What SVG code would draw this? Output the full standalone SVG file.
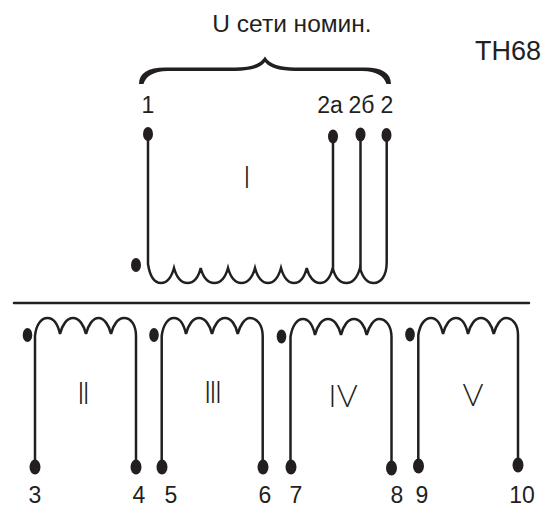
<svg xmlns="http://www.w3.org/2000/svg" width="558" height="507" viewBox="0 0 558 507">
<style>
.w{fill:none;stroke:#231f20;stroke-width:2.5;stroke-linecap:round;stroke-linejoin:miter}
.d{fill:#231f20}
.t{font-family:"Liberation Sans",Arial,sans-serif;font-size:23px;fill:#231f20;text-anchor:middle}
.r{font-family:"Lato","Liberation Sans",sans-serif;font-weight:300;font-size:32px;fill:#231f20;text-anchor:middle}
</style>
<rect width="558" height="507" fill="#fff"/>
<g id="connectors">
<path id="separator" class="w" d="M14 303H529"/>
<path id="brace" class="d" d="M139 84C139 73 148 67.500 165 67.500L235 67.500C250 67 260 65 265 56.500C270 65 280 67 295 67.500L365 67.500C382 67.500 391 73 391 84L386.500 84C384 76 377 71.500 362 71L295 71C280 70.500 270 68.500 265 62C260 68.500 250 70.500 235 71L168 71C153 71.500 146 76 143.500 84Z"/>
</g>
<g id="winding-I">
<path class="w" d="M148 134V264C150 277 155 283 161 283C167 283 171.500 277 174 268C176.500 277 181 283 187.500 283C194 283 198.500 277 200.700 268C203 277 208 283 214.500 283C221 283 225.500 277 228 268C230.500 277 235 283 241.500 283C248 283 252.500 277 255 268C257.500 277 262 283 268 283C274 283 278.500 277 281 268C283.500 277 288 283 294 283C300 283 304.500 277 306.700 268C309 277 314 283 320 283C326 283 330.500 277 332.700 268C335 277 340 283 346.500 283C353 283 357.500 277 360 268C362.500 277 367 283 373.500 283C381 283 386.700 276 386.700 262V135"/>
<path class="w" d="M333 137V268M360.500 135V268"/>
<ellipse class="d" cx="148" cy="134" rx="5" ry="7"/>
<ellipse class="d" cx="333" cy="136.500" rx="5" ry="7"/>
<ellipse class="d" cx="360.500" cy="134.500" rx="5" ry="7"/>
<ellipse class="d" cx="386.500" cy="135" rx="5" ry="7"/>
<ellipse class="d" cx="136" cy="265" rx="5" ry="7"/>
<text class="r" x="247" y="188">I</text>
</g>
<g id="winding-II">
<path class="w" d="M35 467V336C36 325 41 318 47.500 318C54 318 58 325 60 334C62 325 67 318 73 318C79 318 84 325 86 334C88 325 93 318 98.500 318C104 318 109 325 111 334C113 325 118 318 124 318C131 318 136 325 136 336V467"/>
<ellipse class="d" cx="35" cy="467" rx="5.500" ry="7.500"/>
<ellipse class="d" cx="136" cy="467" rx="5.500" ry="7.500"/>
<ellipse class="d" cx="27.500" cy="335" rx="4.800" ry="7"/>
<text class="r" x="82" y="404" letter-spacing="-3">II</text>
</g>
<g id="winding-III">
<path class="w" d="M161.700 467V336C163 325 168 318 174 318C180 318 184 325 186 334C188 325 193 318 199 318C205 318 210 325 212 334C214 325 219 318 225 318C231 318 236 325 237.700 334C240 325 245 318 250 318C257 318 262.700 325 262.700 336V467"/>
<ellipse class="d" cx="162" cy="467" rx="5.500" ry="7.500"/>
<ellipse class="d" cx="263" cy="467" rx="5.500" ry="7.500"/>
<ellipse class="d" cx="154" cy="335" rx="4.800" ry="7"/>
<text class="r" x="211.500" y="403" letter-spacing="-3">III</text>
</g>
<g id="winding-IV">
<path class="w" d="M290.500 467V337C292 326 297 319 303 319C309 319 313 326 315 335C317 326 322 319 328 319C334 319 339 326 341 335C343 326 348 319 354 319C360 319 365 326 366.700 335C369 326 374 319 379 319C386 319 391.500 326 391.500 337V468"/>
<ellipse class="d" cx="291" cy="467" rx="5.500" ry="7.500"/>
<ellipse class="d" cx="391.500" cy="468" rx="5.500" ry="7.500"/>
<ellipse class="d" cx="281.500" cy="336.500" rx="4.800" ry="7"/>
<text class="r" x="343" y="407">IV</text>
</g>
<g id="winding-V">
<path class="w" d="M418.300 466V335C420 324 425 318 431 318C437 318 441 325 443 334C445 325 450 318 456 318C462 318 466 325 468 334C470 325 475 318 481 318C487 318 492 325 493.700 334C496 325 501 318 506 318C513 318 518 325 518 335V465"/>
<ellipse class="d" cx="418.500" cy="466" rx="5.500" ry="7.500"/>
<ellipse class="d" cx="518" cy="465" rx="5.500" ry="7.500"/>
<ellipse class="d" cx="410" cy="334.500" rx="4.800" ry="7"/>
<text class="r" x="473" y="406">V</text>
</g>
<g id="labels">
<text class="t" x="292" y="32" style="font-size:24.500px">U сети номин.</text>
<text class="t" x="508" y="60" style="font-size:27px">ТН68</text>
<text class="t" x="148" y="113">1</text>
<text class="t" x="330" y="113">2а</text>
<text class="t" x="361.500" y="113">2б</text>
<text class="t" x="387" y="113">2</text>
<text class="t" x="35" y="503">3</text>
<text class="t" x="139" y="503">4</text>
<text class="t" x="171" y="503">5</text>
<text class="t" x="265" y="503">6</text>
<text class="t" x="296" y="503">7</text>
<text class="t" x="397" y="503">8</text>
<text class="t" x="422" y="503">9</text>
<text class="t" x="522" y="503">10</text>
</g>
</svg>
